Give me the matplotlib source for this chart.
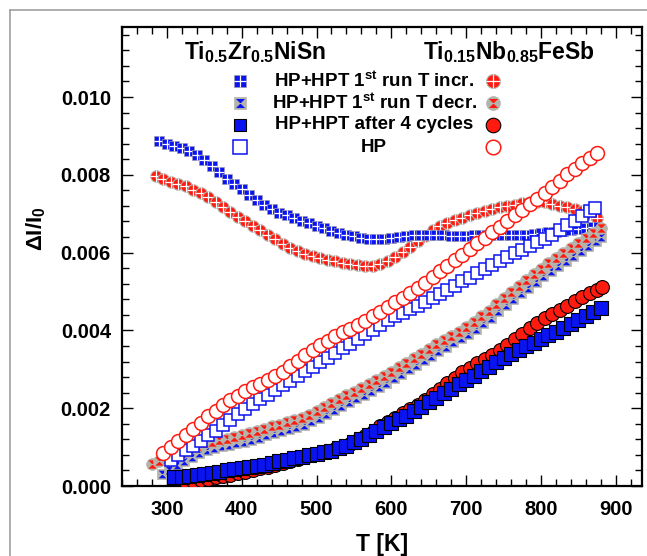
import numpy as np
import matplotlib
matplotlib.use("Agg")
import matplotlib.pyplot as plt
from matplotlib.path import Path
from matplotlib.lines import Line2D
from matplotlib.ticker import MultipleLocator, FormatStrFormatter

plt.rcParams['font.family'] = ['Liberation Sans', 'DejaVu Sans']
plt.rcParams['font.weight'] = 'bold'
plt.rcParams['mathtext.fontset'] = 'custom'
plt.rcParams['mathtext.rm'] = 'Liberation Sans:bold'
plt.rcParams['mathtext.bf'] = 'Liberation Sans:bold'
plt.rcParams['mathtext.it'] = 'Liberation Sans:bold'

# values in units of 1e-3 (dl/l0)
# Ti0.5Zr0.5NiSn, HP+HPT 1st run T incr.
T_zr_inc = [290, 300, 310, 320, 330, 340, 350, 360, 370, 380, 390, 400, 410, 420, 430, 440,
            450, 460, 470, 480, 490, 500, 510, 520, 530, 540, 550, 560, 570, 580, 590, 600,
            610, 620, 630, 640, 650, 660, 670, 680, 690, 700, 710, 720, 730, 740, 750, 760,
            770, 780, 790, 800, 810, 820, 830, 840, 850, 860, 870]
v_zr_inc = [8.88, 8.80, 8.74, 8.68, 8.62, 8.52, 8.38, 8.22, 8.07, 7.90, 7.76, 7.63, 7.48, 7.35,
            7.23, 7.12, 7.03, 6.96, 6.89, 6.81, 6.75, 6.68, 6.62, 6.56, 6.51, 6.46, 6.42, 6.38,
            6.35, 6.34, 6.35, 6.37, 6.39, 6.42, 6.44, 6.45, 6.45, 6.45, 6.44, 6.42, 6.42, 6.43,
            6.44, 6.45, 6.45, 6.45, 6.45, 6.45, 6.45, 6.46, 6.48, 6.50, 6.52, 6.54, 6.56, 6.58,
            6.61, 6.63, 6.65]

# Ti0.15Nb0.85FeSb, HP+HPT 1st run T incr.
T_nb_inc = [285, 295, 305, 315, 325, 335, 345, 355, 365, 375, 385, 395, 405, 415, 425, 435,
            445, 455, 465, 475, 485, 495, 505, 515, 525, 535, 545, 555, 565, 575, 585, 595,
            605, 615, 625, 635, 645, 655, 665, 675, 685, 695, 705, 715, 725, 735, 745, 755,
            765, 775, 785, 795, 805, 815, 825, 835, 845, 855, 865, 875]
v_nb_inc = [7.98, 7.90, 7.82, 7.76, 7.70, 7.62, 7.52, 7.42, 7.30, 7.18, 7.04, 6.91, 6.80, 6.69,
            6.57, 6.45, 6.34, 6.22, 6.12, 6.04, 5.97, 5.91, 5.86, 5.81, 5.78, 5.74, 5.70, 5.67,
            5.65, 5.65, 5.70, 5.79, 5.90, 6.02, 6.14, 6.29, 6.43, 6.57, 6.68, 6.77, 6.84, 6.90,
            6.96, 7.02, 7.08, 7.12, 7.16, 7.19, 7.23, 7.27, 7.29, 7.31, 7.29, 7.24, 7.20, 7.16,
            7.12, 7.06, 7.00, 6.88]

# Ti0.5Zr0.5NiSn, HP+HPT 1st run T decr.
T_zr_dec = [293, 303, 313, 323, 333, 343, 353, 363, 373, 383, 393, 403, 413, 423, 433, 443,
            453, 463, 473, 483, 493, 503, 513, 523, 533, 543, 553, 563, 573, 583, 593, 603,
            613, 623, 633, 643, 653, 663, 673, 683, 693, 703, 713, 723, 733, 743, 753, 763,
            773, 783, 793, 803, 813, 823, 833, 843, 853, 863, 873, 880]
v_zr_dec = [0.30, 0.42, 0.54, 0.65, 0.75, 0.84, 0.92, 0.98, 1.02, 1.06, 1.10, 1.14, 1.19, 1.24,
            1.30, 1.35, 1.41, 1.46, 1.52, 1.58, 1.66, 1.75, 1.85, 1.96, 2.06, 2.15, 2.25, 2.34,
            2.44, 2.55, 2.66, 2.77, 2.89, 3.00, 3.12, 3.23, 3.35, 3.47, 3.58, 3.69, 3.80, 3.92,
            4.04, 4.18, 4.33, 4.49, 4.65, 4.80, 4.95, 5.10, 5.25, 5.39, 5.53, 5.66, 5.79, 5.92,
            6.05, 6.18, 6.31, 6.40]

# Ti0.15Nb0.85FeSb, HP+HPT 1st run T decr.
T_nb_dec = [280, 290, 300, 310, 320, 330, 340, 350, 360, 370, 380, 390, 400, 410, 420, 430,
            440, 450, 460, 470, 480, 490, 500, 510, 520, 530, 540, 550, 560, 570, 580, 590,
            600, 610, 620, 630, 640, 650, 660, 670, 680, 690, 700, 710, 720, 730, 740, 750,
            760, 770, 780, 790, 800, 810, 820, 830, 840, 850, 860, 870, 880]
v_nb_dec = [0.56, 0.63, 0.69, 0.76, 0.85, 0.94, 1.03, 1.10, 1.14, 1.18, 1.22, 1.26, 1.30, 1.35,
            1.41, 1.47, 1.53, 1.58, 1.64, 1.70, 1.76, 1.83, 1.92, 2.02, 2.13, 2.23, 2.33, 2.42,
            2.52, 2.61, 2.72, 2.83, 2.94, 3.06, 3.17, 3.29, 3.40, 3.52, 3.64, 3.75, 3.86, 3.97,
            4.09, 4.21, 4.36, 4.51, 4.67, 4.84, 4.99, 5.14, 5.30, 5.45, 5.59, 5.73, 5.86, 5.99,
            6.12, 6.25, 6.38, 6.51, 6.64]

# Ti0.5Zr0.5NiSn, HP
T_zr_hp = [305, 315, 325, 335, 345, 355, 365, 375, 385, 395, 405, 415, 425, 435, 445, 455,
           465, 475, 485, 495, 505, 515, 525, 535, 545, 555, 565, 575, 585, 595, 605, 615,
           625, 635, 645, 655, 665, 675, 685, 695, 705, 715, 725, 735, 745, 755, 765, 775,
           785, 795, 805, 815, 825, 835, 845, 855, 865, 872]
v_zr_hp = [0.68, 0.80, 0.92, 1.04, 1.16, 1.30, 1.42, 1.56, 1.70, 1.84, 1.98, 2.11, 2.23, 2.35,
           2.47, 2.59, 2.71, 2.83, 2.95, 3.06, 3.18, 3.30, 3.42, 3.54, 3.66, 3.78, 3.90, 4.02,
           4.14, 4.26, 4.36, 4.46, 4.55, 4.64, 4.74, 4.83, 4.93, 5.04, 5.15, 5.26, 5.36, 5.47,
           5.57, 5.68, 5.78, 5.88, 5.98, 6.07, 6.17, 6.26, 6.35, 6.46, 6.58, 6.70, 6.82, 6.94,
           7.06, 7.14]

# Ti0.15Nb0.85FeSb, HP
T_nb_hp = [295, 305, 315, 325, 335, 345, 355, 365, 375, 385, 395, 405, 415, 425, 435, 445,
           455, 465, 475, 485, 495, 505, 515, 525, 535, 545, 555, 565, 575, 585, 595, 605,
           615, 625, 635, 645, 655, 665, 675, 685, 695, 705, 715, 725, 735, 745, 755, 765,
           775, 785, 795, 805, 815, 825, 835, 845, 855, 865, 875]
v_nb_hp = [0.84, 1.00, 1.16, 1.32, 1.47, 1.63, 1.79, 1.93, 2.07, 2.21, 2.32, 2.43, 2.54, 2.63,
           2.73, 2.83, 2.94, 3.08, 3.22, 3.37, 3.50, 3.62, 3.74, 3.85, 3.95, 4.04, 4.13, 4.24,
           4.36, 4.48, 4.60, 4.72, 4.84, 4.96, 5.09, 5.23, 5.38, 5.52, 5.66, 5.81, 5.95, 6.10,
           6.24, 6.38, 6.52, 6.67, 6.81, 6.96, 7.10, 7.24, 7.38, 7.52, 7.68, 7.84, 8.01, 8.16,
           8.30, 8.43, 8.56]

# Ti0.5Zr0.5NiSn, HP+HPT after 4 cycles
T_zr_4c = [310, 320, 330, 340, 350, 360, 370, 380, 390, 400, 410, 420, 430, 440, 450, 460,
           470, 480, 490, 500, 510, 520, 530, 540, 550, 560, 570, 580, 590, 600, 610, 620,
           630, 640, 650, 660, 670, 680, 690, 700, 710, 720, 730, 740, 750, 760, 770, 780,
           790, 800, 810, 820, 830, 840, 850, 860, 870, 880]
v_zr_4c = [0.24, 0.24, 0.26, 0.28, 0.31, 0.34, 0.37, 0.40, 0.43, 0.46, 0.49, 0.51, 0.55, 0.59,
           0.63, 0.67, 0.71, 0.75, 0.79, 0.83, 0.87, 0.91, 0.97, 1.04, 1.12, 1.22, 1.32, 1.42,
           1.52, 1.61, 1.71, 1.80, 1.92, 2.04, 2.16, 2.27, 2.38, 2.50, 2.61, 2.73, 2.84, 2.95,
           3.07, 3.19, 3.30, 3.40, 3.50, 3.59, 3.68, 3.78, 3.87, 3.97, 4.07, 4.17, 4.27, 4.37,
           4.47, 4.58]

# Ti0.15Nb0.85FeSb, HP+HPT after 4 cycles
T_nb_4c = [325, 335, 345, 355, 365, 375, 385, 395, 405, 415, 425, 435, 445, 455, 465, 475,
           485, 495, 505, 515, 525, 535, 545, 555, 565, 575, 585, 595, 605, 615, 625, 635,
           645, 655, 665, 675, 685, 695, 705, 715, 725, 735, 745, 755, 765, 775, 785, 795,
           805, 815, 825, 835, 845, 855, 865, 875, 882]
v_nb_4c = [0.10, 0.13, 0.16, 0.19, 0.22, 0.25, 0.29, 0.33, 0.37, 0.41, 0.45, 0.50, 0.55, 0.60,
           0.64, 0.69, 0.74, 0.79, 0.84, 0.89, 0.95, 1.01, 1.08, 1.17, 1.28, 1.40, 1.53, 1.64,
           1.76, 1.87, 1.98, 2.09, 2.22, 2.36, 2.50, 2.64, 2.78, 2.92, 3.04, 3.15, 3.26, 3.38,
           3.50, 3.63, 3.77, 3.92, 4.07, 4.20, 4.31, 4.42, 4.53, 4.64, 4.75, 4.86, 4.96, 5.05,
           5.12]

legend_labels = [r"HP+HPT 1$^{st}$ run T incr.", r"HP+HPT 1$^{st}$ run T decr.",
                 "HP+HPT after 4 cycles", "HP"]
title_zr = r"Ti$_{0.5}$Zr$_{0.5}$NiSn"
title_nb = r"Ti$_{0.15}$Nb$_{0.85}$FeSb"

BLUE = '#0a14f0'
RED = '#ff1a10'
GRAY = '#b4b4ac'

hourglass = Path([(-1, 1), (1, 1), (0, 0), (-1, 1), (-1, -1), (1, -1), (0, 0), (-1, -1)],
                 [Path.MOVETO, Path.LINETO, Path.LINETO, Path.CLOSEPOLY,
                  Path.MOVETO, Path.LINETO, Path.LINETO, Path.CLOSEPOLY])

# marker layer styles for each kind
sty_zr_inc = [dict(marker='s', ms=6.8, mfc=BLUE, mec='#9a9ab0', mew=0.5),
              dict(marker='+', ms=6.8, color='white', mew=0.9)]
sty_nb_inc = [dict(marker='o', ms=8.3, mfc=RED, mec=GRAY, mew=0.8),
              dict(marker='+', ms=8.3, color='white', mew=0.9)]
sty_zr_dec = [dict(marker='s', ms=7.8, mfc=GRAY, mec=GRAY, mew=0.5),
              dict(marker=hourglass, ms=5.5, mfc=BLUE, mec='none')]
sty_nb_dec = [dict(marker='o', ms=8.5, mfc=GRAY, mec=GRAY, mew=0.5),
              dict(marker=hourglass, ms=6.0, mfc=RED, mec='none')]
sty_zr_hp = [dict(marker='s', ms=8.5, mfc='white', mec=BLUE, mew=1.1)]
sty_nb_hp = [dict(marker='o', ms=10, mfc='white', mec=RED, mew=1.1)]
sty_zr_4c = [dict(marker='s', ms=9.5, mfc=BLUE, mec='black', mew=0.8)]
sty_nb_4c = [dict(marker='o', ms=10, mfc=RED, mec='black', mew=0.8)]

leg_sty_left = [[dict(s, ms=9) for s in sty_zr_inc], [dict(sty_zr_dec[0], ms=9), dict(sty_zr_dec[1], ms=6.5)],
                [dict(sty_zr_4c[0], ms=9)], [dict(sty_zr_hp[0], ms=9.5)]]
leg_sty_right = [[dict(s, ms=10) for s in sty_nb_inc], [dict(sty_nb_dec[0], ms=10), dict(sty_nb_dec[1], ms=6.5)],
                 [dict(sty_nb_4c[0], ms=10.5)], [dict(sty_nb_hp[0], ms=10.5)]]


def draw_series(ax, T, v, layers, z):
    # point by point so every marker stacks over the previous one
    y = np.array(v) * 1e-3
    for i in range(len(T)):
        for st in layers:
            ax.plot([T[i]], [y[i]], ls='none', zorder=z, **st)


fig = plt.figure(figsize=(6.47, 5.56), dpi=100)
ax = fig.add_axes([122 / 647, 70 / 556, 520 / 647, 459 / 556])

draw_series(ax, T_nb_inc, v_nb_inc, sty_nb_inc, 2)
draw_series(ax, T_zr_inc, v_zr_inc, sty_zr_inc, 3)
draw_series(ax, T_zr_dec, v_zr_dec, sty_zr_dec, 4)
draw_series(ax, T_nb_dec, v_nb_dec, sty_nb_dec, 5)
draw_series(ax, T_zr_hp, v_zr_hp, sty_zr_hp, 6)
draw_series(ax, T_nb_hp, v_nb_hp, sty_nb_hp, 7)
draw_series(ax, T_nb_4c, v_nb_4c, sty_nb_4c, 8)
draw_series(ax, T_zr_4c, v_zr_4c, sty_zr_4c, 9)

ax.set_xlim(240, 935)
ax.set_ylim(0, 0.0118)
ax.xaxis.set_major_locator(MultipleLocator(100))
ax.xaxis.set_minor_locator(MultipleLocator(20))
ax.yaxis.set_major_locator(MultipleLocator(0.002))
ax.yaxis.set_minor_locator(MultipleLocator(0.0004))
ax.yaxis.set_major_formatter(FormatStrFormatter('%.3f'))
ax.set_xticks([300, 400, 500, 600, 700, 800, 900])
ax.tick_params(which='both', direction='in', top=True, right=True, width=1, labelsize=14.5)
ax.tick_params(which='major', length=8)
ax.tick_params(which='minor', length=5)
ax.tick_params(axis='x', pad=10)
ax.tick_params(axis='y', pad=8)
for s in ax.spines.values():
    s.set_linewidth(1.6)

ax.set_xlabel("T [K]", fontsize=16.5, fontweight='bold', labelpad=10)
ax.set_ylabel(r"$\Delta$I/I$_0$", fontsize=16, fontweight='bold')
ax.yaxis.set_label_coords(-0.142, 0.56)

# hand-made legend: blue marker column, label column, red marker column
rows_y = [0.883, 0.835, 0.787, 0.738]
for yy, lab, ls_, rs_ in zip(rows_y, legend_labels, leg_sty_left, leg_sty_right):
    for st in ls_:
        ax.plot([0.227], [yy], ls='none', transform=ax.transAxes, clip_on=False, zorder=10, **st)
    for st in rs_:
        ax.plot([0.713], [yy], ls='none', transform=ax.transAxes, clip_on=False, zorder=10, **st)
    ax.text(0.485, yy, lab, transform=ax.transAxes, ha='center', va='center',
            fontsize=13.5, fontweight='bold')

ax.text(0.255, 0.945, title_zr, transform=ax.transAxes, ha='center', va='center',
        fontsize=16.5, fontweight='bold')
ax.text(0.745, 0.945, title_nb, transform=ax.transAxes, ha='center', va='center',
        fontsize=16.5, fontweight='bold')

# thin gray frame of the original figure (cropped on right and bottom)
fig.add_artist(Line2D([10 / 647, 10 / 647], [0, 1 - 10 / 556], color='#a0a0a0', lw=1.2,
                      transform=fig.transFigure))
fig.add_artist(Line2D([10 / 647, 1], [1 - 10 / 556, 1 - 10 / 556], color='#a0a0a0', lw=1.2,
                      transform=fig.transFigure))

fig.savefig("out.png", dpi=100)
